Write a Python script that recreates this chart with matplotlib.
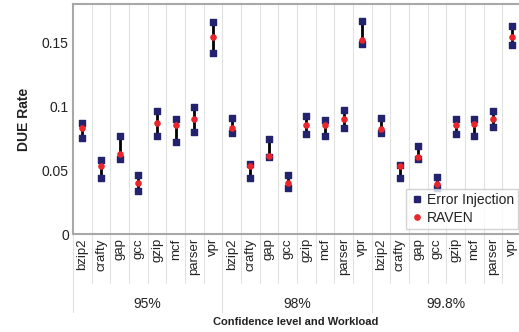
import matplotlib
matplotlib.use("Agg")
import matplotlib.pyplot as plt
import matplotlib.transforms as mtransforms
from matplotlib.lines import Line2D

plt.rcParams["font.family"] = ["Liberation Sans", "DejaVu Sans"]

workloads = ["bzip2", "crafty", "gap", "gcc", "gzip", "mcf", "parser", "vpr"]
levels = ["95%", "98%", "99.8%"]

# error injection range (upper / lower) and RAVEN estimate, per level x workload
ei_high = [0.087, 0.058, 0.077, 0.046, 0.096, 0.090, 0.099, 0.166,
           0.091, 0.055, 0.074, 0.046, 0.092, 0.089, 0.097, 0.167,
           0.091, 0.054, 0.069, 0.045, 0.090, 0.090, 0.096, 0.163]
ei_low = [0.075, 0.044, 0.059, 0.034, 0.077, 0.072, 0.080, 0.142,
          0.079, 0.044, 0.060, 0.036, 0.078, 0.077, 0.083, 0.149,
          0.079, 0.044, 0.059, 0.036, 0.078, 0.077, 0.084, 0.148]
raven = [0.083, 0.053, 0.063, 0.040, 0.087, 0.085, 0.090, 0.154,
         0.083, 0.053, 0.061, 0.040, 0.085, 0.085, 0.090, 0.152,
         0.082, 0.053, 0.060, 0.039, 0.085, 0.086, 0.090, 0.154]

labels = workloads * len(levels)
x = list(range(len(labels)))

NAVY = "#22226e"
RED = "#e8262c"
GRID = "#e2e2e2"
TEXT = "#222222"

fig = plt.figure(figsize=(5.19, 3.32), dpi=100)
ax = fig.add_axes([73 / 519, 98 / 332, 448 / 519, 230 / 332])

ax.vlines(x, ei_low, ei_high, color="black", lw=2.0, zorder=2)
ax.scatter(x, ei_high, marker="s", s=18, color=NAVY, zorder=3)
ax.scatter(x, ei_low, marker="s", s=18, color=NAVY, zorder=3)
ax.scatter(x, raven, marker="o", s=14, color=RED, zorder=4)

ax.set_xlim(-0.5, len(labels) - 0.5)
ax.set_ylim(0, 0.18)
ax.set_yticks([0, 0.05, 0.1, 0.15])
ax.set_yticklabels(["0", "0.05", "0.1", "0.15"], fontsize=10, color=TEXT)
ax.set_ylabel("DUE Rate", fontsize=10, fontweight="bold", color=TEXT, labelpad=8)

ax.set_xticks(x)
ax.set_xticklabels(labels, rotation=90, fontsize=9.5, color=TEXT)
ax.tick_params(axis="both", length=0, pad=3)

# vertical gridlines between workloads
for b in range(1, len(labels)):
    ax.axvline(b - 0.5, color=GRID, lw=0.8, zorder=0)

for s in ax.spines.values():
    s.set_color("#a8a8a8")
    s.set_linewidth(1.5)

# category separators below the axis, longer ones between levels
trans = mtransforms.blended_transform_factory(ax.transData, ax.transAxes)
for b in range(len(labels) + 1):
    edge = b - 0.5
    depth = -0.34 if b % len(workloads) == 0 else -0.215
    ax.plot([edge, edge], [0, depth], transform=trans, color=GRID, lw=0.8,
            clip_on=False)

for i, lv in enumerate(levels):
    mid = i * len(workloads) + (len(workloads) - 1) / 2
    ax.text(mid, -0.305, lv, transform=trans, ha="center", va="center",
            fontsize=10, color=TEXT)

fig.text(296 / 519, 1 - 322 / 332, "Confidence level and Workload",
         ha="center", va="center", fontsize=8, fontweight="bold", color=TEXT)

handles = [
    Line2D([], [], marker="s", ls="none", color=NAVY, markersize=4),
    Line2D([], [], marker="o", ls="none", color=RED, markersize=3.8),
]
leg = ax.legend(handles, ["Error Injection", "RAVEN"], loc="lower right",
                bbox_to_anchor=(1.0, 0.01), fontsize=10, frameon=True,
                fancybox=False, handletextpad=0.2, handlelength=1.0,
                borderpad=0.3, labelspacing=0.25, borderaxespad=0.2)
leg.get_frame().set_edgecolor("#c8c8c8")
leg.get_frame().set_linewidth(1.0)
for t in leg.get_texts():
    t.set_color(TEXT)

fig.savefig("out.png", dpi=100)
